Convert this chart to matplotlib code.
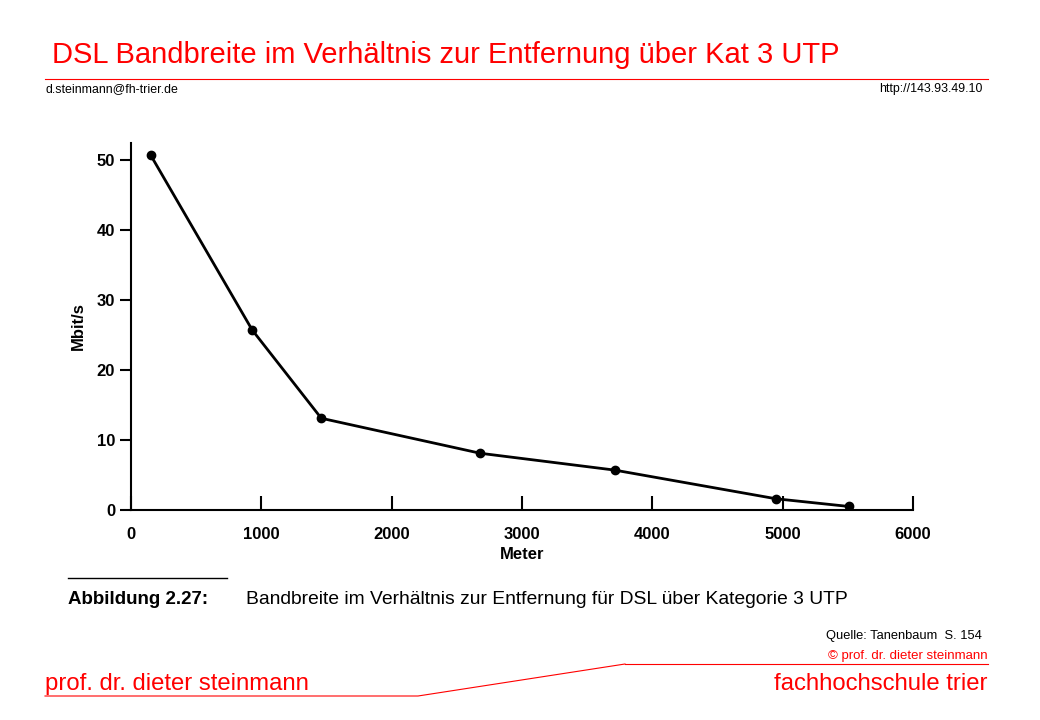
import matplotlib
matplotlib.use("Agg")
import matplotlib.pyplot as plt
from matplotlib.lines import Line2D

meters = [150, 930, 1460, 2680, 3710, 4950, 5510]
mbits = [50.7, 25.7, 13.1, 8.1, 5.7, 1.6, 0.5]
xticks = [0, 1000, 2000, 3000, 4000, 5000, 6000]
yticks = [0, 10, 20, 30, 40, 50]

W, H = 1040, 720
fig = plt.figure(figsize=(W/100, H/100), dpi=100)
F = "Liberation Sans"
def fx(x): return x / W
def fy(y): return 1 - y / H

ax = fig.add_axes([fx(131), fy(510), fx(913) - fx(131), fy(143) - fy(510)])
ax.plot(meters, mbits, color="black", lw=2, marker="o", ms=6)
ax.set_xlim(0, 6000)
ax.set_ylim(0, 52.4)
ax.set_xticks(xticks)
ax.set_yticks(yticks)
ax.spines["top"].set_visible(False)
ax.spines["right"].set_visible(False)
for s in ("left", "bottom"):
    ax.spines[s].set_linewidth(1.5)
ax.tick_params(axis="x", direction="in", length=10, width=1.5, pad=12)
ax.tick_params(axis="y", direction="out", length=8, width=1.5)
for lab in ax.get_xticklabels() + ax.get_yticklabels():
    lab.set_fontfamily(F); lab.set_fontweight("bold"); lab.set_fontsize(12)
ax.set_xlabel("Meter", fontfamily=F, fontweight="bold", fontsize=12, labelpad=4)
ax.set_ylabel("Mbit/s", fontfamily=F, fontweight="bold", fontsize=12, labelpad=8)

red = "#ff0000"
fig.text(fx(52), fy(55), "DSL Bandbreite im Verhältnis zur Entfernung über Kat 3 UTP",
         color=red, fontsize=21, fontfamily=F, va="center")
fig.add_artist(Line2D([fx(45), fx(988)], [fy(79), fy(79)], color=red, lw=0.8))
fig.text(fx(45), fy(89), "d.steinmann@fh-trier.de", fontsize=8.9, fontfamily=F, va="center")
fig.text(fx(982), fy(89), "http://143.93.49.10", fontsize=8.9, fontfamily=F, va="center", ha="right")

fig.add_artist(Line2D([fx(68), fx(227)], [fy(578), fy(578)], color="black", lw=1))
fig.text(fx(68), fy(599), "Abbildung 2.27:", fontsize=13.5, fontweight="bold", fontfamily=F, va="center")
fig.text(fx(246), fy(599), "Bandbreite im Verhältnis zur Entfernung für DSL über Kategorie 3 UTP",
         fontsize=13.9, fontfamily=F, va="center")

fig.text(fx(826), fy(636), "Quelle: Tanenbaum  S. 154", fontsize=9.3, fontfamily=F, va="center")
fig.text(fx(988), fy(656), "© prof. dr. dieter steinmann", fontsize=9.5, fontfamily=F, va="center",
         ha="right", color=red)
fig.add_artist(Line2D([fx(625), fx(988)], [fy(664), fy(664)], color=red, lw=0.8))
fig.add_artist(Line2D([fx(45), fx(418), fx(625)], [fy(696), fy(696), fy(664)], color=red, lw=0.8))
fig.text(fx(45), fy(684), "prof. dr. dieter steinmann", fontsize=17.2, fontfamily=F, va="center", color=red)
fig.text(fx(988), fy(684), "fachhochschule trier", fontsize=17.2, fontfamily=F, va="center",
         ha="right", color=red)

fig.savefig("out.png", dpi=100)
